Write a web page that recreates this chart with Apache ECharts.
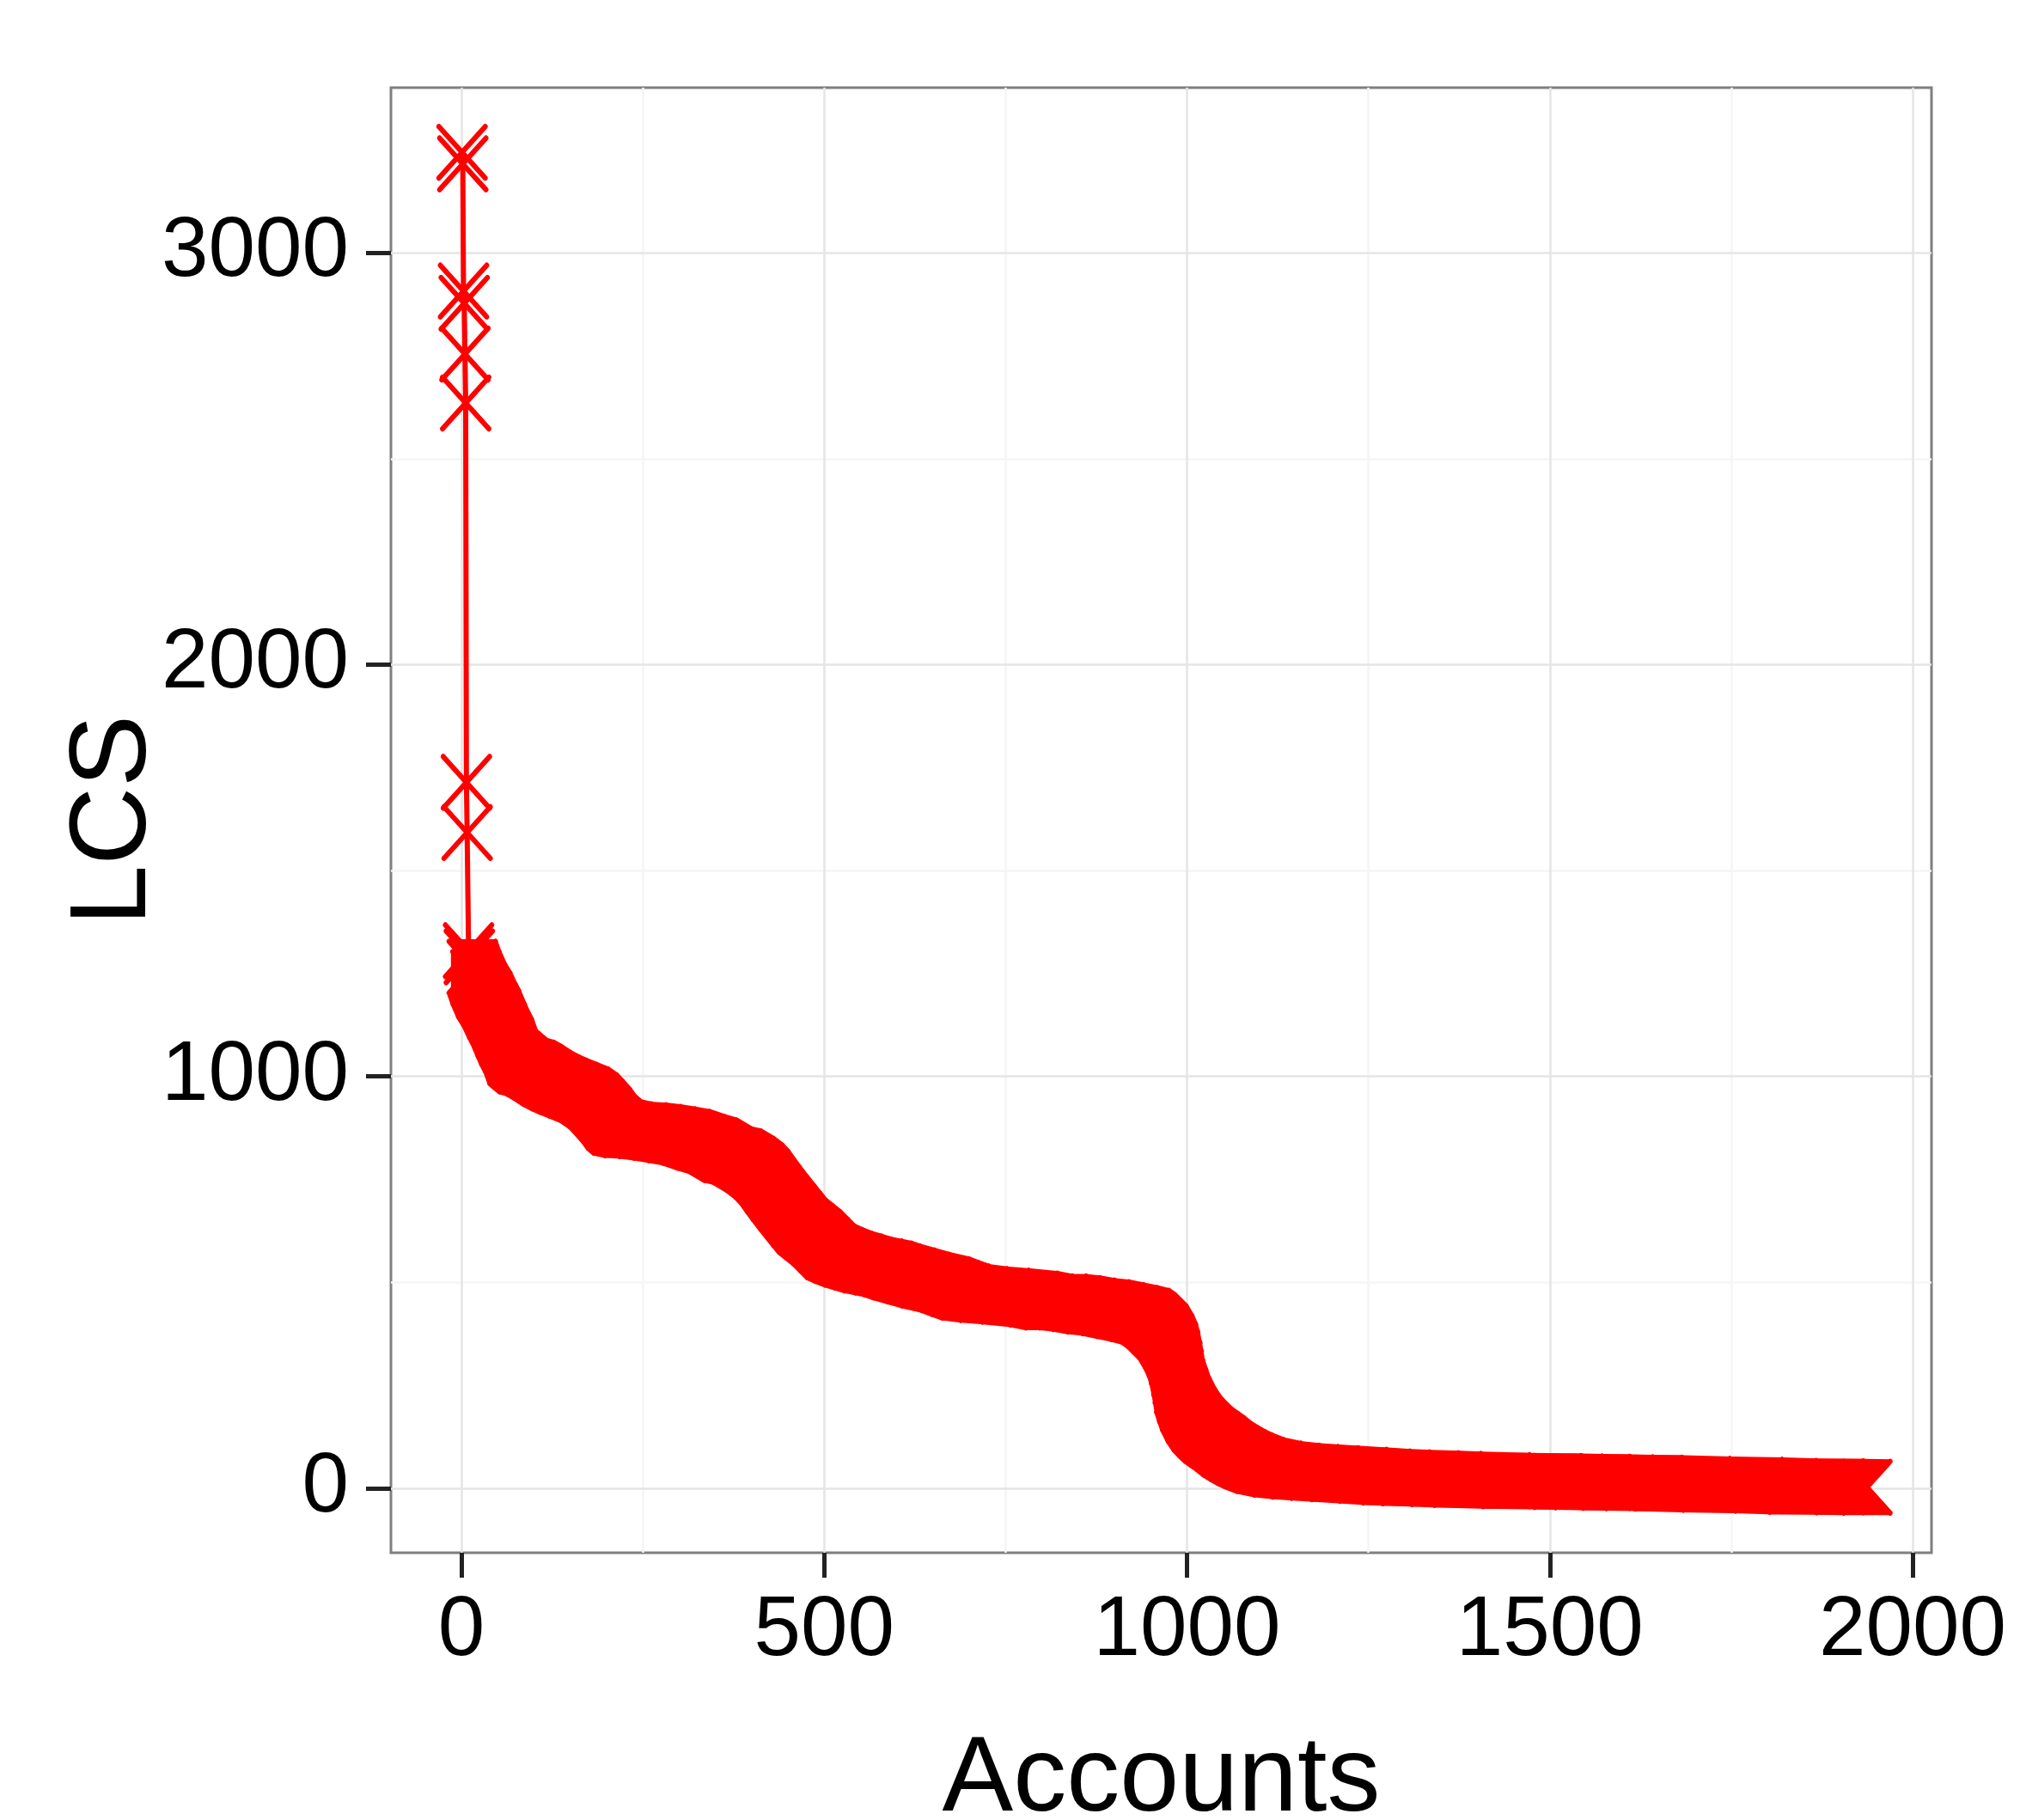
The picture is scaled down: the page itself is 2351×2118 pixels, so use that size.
<!DOCTYPE html>
<html><head><meta charset="utf-8">
<script src="https://cdn.jsdelivr.net/npm/echarts@6/dist/echarts.min.js"></script>
<style>html,body{margin:0;padding:0;background:#fff}#c{width:2351px;height:2118px}</style>
</head><body><div id="c"></div>
<script>
// Accounts (rank) and their LCS values
const accounts = [1,2,3,4,5,6,7,8,10,11,15,20,28,35,43,47,55,60,65,71,75,85,95,105,118,130,140,154,170,182,190,200,207,215,230,250,270,290,310,330,347,367,380,398,410,418,426,434,444,454,462,470,480,490,500,509,520,533,547,560,575,588,600,620,640,667,680,695,720,750,789,810,829,848,868,888,908,927,943,951,959,967,975,980,983,986,988,990,994,998,1006,1014,1022,1030,1038,1046,1055,1065,1075,1085,1101,1125,1150,1176,1204,1243,1275,1302,1342,1373,1440,1511,1540,1578,1610,1650,1716,1788,1835,1900,1937];
const lcs = [3244,3216,2907,2877,2754,2635,1714,1592,1305,1290,1265,1240,1208,1188,1158,1145,1112,1092,1075,1046,1040,1025,1020,1010,995,984,976,966,955,940,925,905,888,876,870,868,864,858,852,840,831,810,805,786,770,755,735,716,693,671,653,636,622,608,590,574,565,556,549,542,537,532,525,515,505,494,485,476,470,466,459,452,452,448,442,438,431,424,417,407,393,379,355,335,316,290,270,247,225,205,177,156,141,128,118,108,95,84,74,66,55,46,41,38,35,31,27,25,23,21,18,16,15,14,13,12,9,7,4,3,2];
const xTicks = [0,500,1000,1500,2000];
const yTicks = [0,1000,2000,3000];
const xMinor = [250,750,1250,1750];
const yMinor = [500,1500,2500];
const bandStartAccount = 15; // where the overlapping markers merge into a solid band

const points = accounts.map((a, i) => [a, lcs[i]]);
const band = points.filter(p => p[0] >= bandStartAccount);
// one item per pair of neighbouring points of the dense part: [x0, y0, x1, y1, isFirst, isLast]
const segments = band.slice(0, -1).map((p, i) => [p[0], p[1], band[i + 1][0], band[i + 1][1],
  i === 0 ? 1 : 0, i === band.length - 2 ? 1 : 0]);

const font = 'Liberation Sans';
const XMIN = -97, XMAX = 2026, YMIN = -157, YMAX = 3401;
const HX = 29, HY = 32.5; // half extent of one cross marker, px
const fmt = v => String(v);

function renderSegment(params, api) {
  const p0 = api.coord([api.value(0), api.value(1)]);
  const p1 = api.coord([api.value(2), api.value(3)]);
  const pts = [];
  pts.push([p0[0] - HX, p0[1] - HY]);
  pts.push([p0[0] + HX, p0[1] - HY]);
  pts.push([p1[0] + HX, p1[1] - HY]);
  if (api.value(5)) pts.push([p1[0], p1[1]]);
  pts.push([p1[0] + HX, p1[1] + HY]);
  pts.push([p1[0] - HX, p1[1] + HY]);
  pts.push([p0[0] - HX, p0[1] + HY]);
  if (api.value(4)) pts.push([p0[0], p0[1]]);
  return {type: 'polygon', shape: {points: pts}, style: {fill: '#ff0000'}};
}

const chart = echarts.init(document.getElementById('c'), null, {renderer: 'canvas'});
chart.setOption({
  animation: false,
  backgroundColor: '#ffffff',
  grid: {left: 455, top: 102, right: 103, bottom: 311, show: true, borderColor: '#7f7f7f', borderWidth: 3,
         backgroundColor: 'rgba(0,0,0,0)', containLabel: false, outerBoundsMode: 'none'},
  xAxis: [
    {type: 'value', min: XMIN, max: XMAX, position: 'bottom', z: 1,
     axisLine: {show: false, onZero: false},
     axisTick: {show: true, length: 29, lineStyle: {color: '#222', width: 5}, customValues: xTicks},
     axisLabel: {customValues: xTicks, formatter: fmt, fontSize: 98, color: '#000', fontFamily: font, margin: 43},
     splitLine: {show: true, lineStyle: {color: '#e5e5e5', width: 2.5}},
     name: 'Accounts', nameLocation: 'middle', nameGap: 204, nameMoveOverlap: false,
     nameTextStyle: {fontSize: 124, color: '#000', fontFamily: font}},
    {type: 'value', min: XMIN, max: XMAX, position: 'top', z: 0,
     axisLine: {show: false, onZero: false},
     axisTick: {show: false, customValues: xMinor},
     axisLabel: {show: false, customValues: xMinor},
     splitLine: {show: true, lineStyle: {color: '#f5f5f5', width: 2.5}}}
  ],
  yAxis: [
    {type: 'value', min: YMIN, max: YMAX, position: 'left', z: 1,
     axisLine: {show: false, onZero: false},
     axisTick: {show: true, length: 29, lineStyle: {color: '#222', width: 5}, customValues: yTicks},
     axisLabel: {customValues: yTicks, formatter: fmt, fontSize: 98, color: '#000', fontFamily: font, margin: 49},
     splitLine: {show: true, lineStyle: {color: '#e5e5e5', width: 2.5}},
     name: 'LCS', nameLocation: 'middle', nameRotate: 90, nameGap: 258, nameMoveOverlap: false,
     nameTextStyle: {fontSize: 126, color: '#000', fontFamily: font}},
    {type: 'value', min: YMIN, max: YMAX, position: 'right', z: 0,
     axisLine: {show: false, onZero: false},
     axisTick: {show: false, customValues: yMinor},
     axisLabel: {show: false, customValues: yMinor},
     splitLine: {show: true, lineStyle: {color: '#f5f5f5', width: 2.5}}}
  ],
  series: [
    {type: 'custom', coordinateSystem: 'cartesian2d', xAxisIndex: 0, yAxisIndex: 0, data: segments,
     encode: {x: [0, 2], y: [1, 3]}, renderItem: renderSegment, silent: true, z: 5},
    {type: 'line', xAxisIndex: 0, yAxisIndex: 0, data: points, z: 6, silent: true,
     symbol: 'path://M0,0L10,10M10,0L0,10', symbolSize: [54, 60],
     itemStyle: {color: 'rgba(0,0,0,0)', borderColor: '#ff0000', borderWidth: 6, borderCap: 'round'},
     lineStyle: {color: '#ff0000', width: 6}}
  ]
});
</script></body></html>
